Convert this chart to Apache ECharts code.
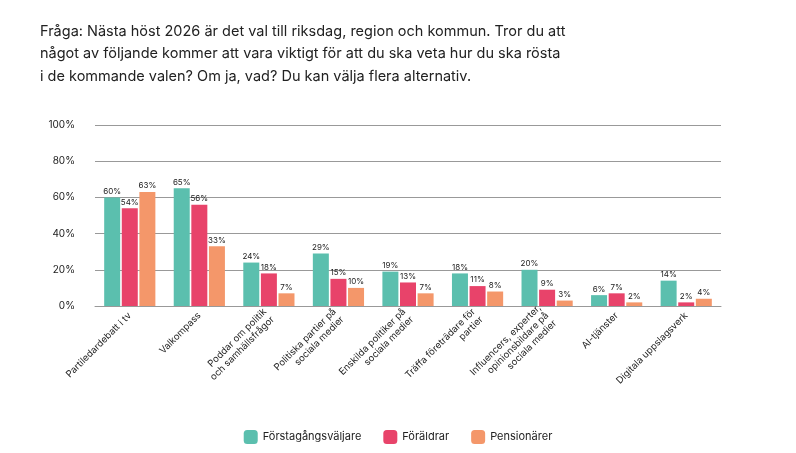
<!DOCTYPE html>
<html>
<head>
<meta charset="utf-8">
<script src="https://cdn.jsdelivr.net/npm/echarts@6/dist/echarts.min.js"></script>
<style>
 body { margin:0; background:#fff; }
 #chart { width:796px; height:453px; }
</style>
</head>
<body>
<div id="chart"></div>
<script>
const categories = [
   'Partiledardebatt i tv',
   'Valkompass',
   'Poddar om politik\noch samhällsfrågor',
   'Politiska partier på\nsociala medier',
   'Enskilda politiker på\nsociala medier',
   'Träffa företrädare för\npartier',
   'Influencers, experter,\nopinionsbildare på\nsociala medier',
   'AI-tjänster',
   'Digitala uppslagsverk'
];
const forstagang = [60, 65, 24, 29, 19, 18, 20, 6, 14];
const foraldrar = [54, 56, 18, 15, 13, 11, 9, 7, 2];
const pensionarer = [63, 33, 7, 10, 7, 8, 3, 2, 4];
const yTicks = [0, 20, 40, 60, 80, 100];

const chart = echarts.init(document.getElementById('chart'));

function bar(name, data, color)
{
   return {
      name: name,
      type: 'bar',
      data: data,
      barWidth: 16,
      barGap: '10%',
      itemStyle: { color: color },
      label: { show: true, position: 'top', formatter: '{c}%', fontSize: 8, color: '#222', distance: 2 }
   };
}

chart.setOption(
{
   animation: false,
   textStyle: { fontFamily: 'Inter, sans-serif' },
   title:
   {
      text: 'Fråga: Nästa höst 2026 är det val till riksdag, region och kommun. Tror du att\nnågot av följande kommer att vara viktigt för att du ska veta hur du ska rösta\ni de kommande valen? Om ja, vad? Du kan välja flera alternativ.',
      left: 35, top: 15,
      textStyle: { fontSize: 14.5, fontWeight: 'normal', color: '#222', lineHeight: 22.5 }
   },
   legend:
   {
      bottom: 4, left: 'center', itemWidth: 14, itemHeight: 14, itemGap: 22,
      textStyle: { fontSize: 11, color: '#222' },
      data: ['Förstagångsväljare', 'Föräldrar', 'Pensionärer']
   },
   grid: { left: 95, right: 75, top: 125, bottom: 147 },
   xAxis:
   {
      type: 'category',
      data: categories,
      axisTick: { show: false },
      axisLine: { lineStyle: { color: '#999' } },
      axisLabel: { rotate: 45, fontSize: 9.5, color: '#222', interval: 0, align: 'right', lineHeight: 11 }
   },
   yAxis:
   {
      type: 'value', min: 0, max: 100, interval: 20,
      axisLabel: { formatter: '{value}%', fontSize: 10, color: '#222', margin: 20 },
      splitLine: { lineStyle: { color: '#999' } }
   },
   series: [
      bar('Förstagångsväljare', forstagang, '#5bbfae'),
      bar('Föräldrar', foraldrar, '#e8436a'),
      bar('Pensionärer', pensionarer, '#f4976a')
   ]
});
</script>
</body>
</html>
